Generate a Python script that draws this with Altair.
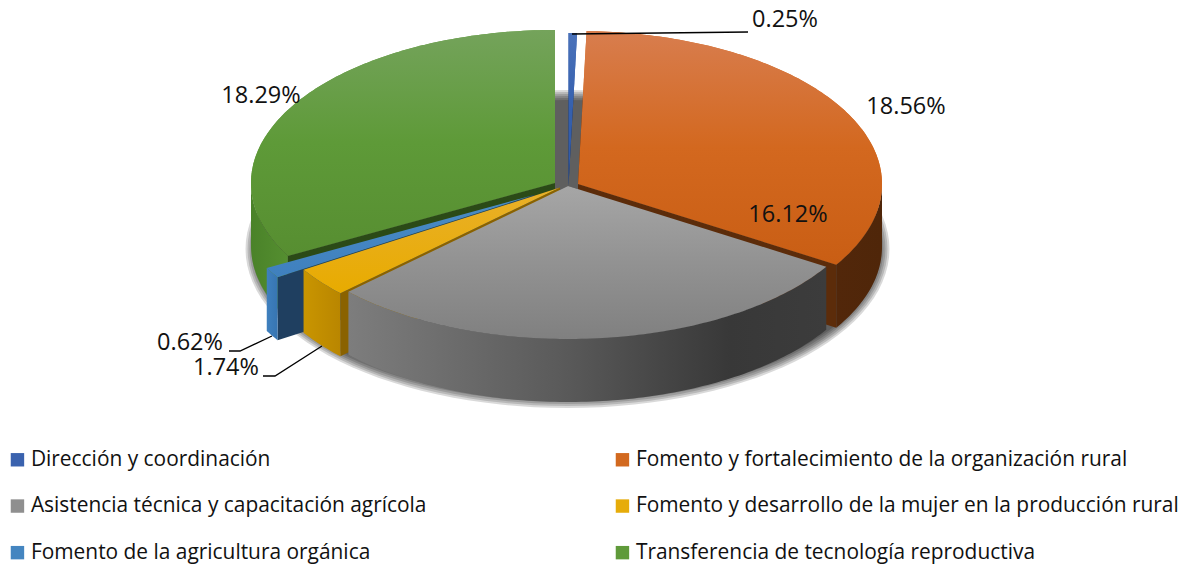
import math
import altair as alt

categories = ["Dirección y coordinación", "Fomento y fortalecimiento de la organización rural",
              "Asistencia técnica y capacitación agrícola", "Fomento y desarrollo de la mujer en la producción rural",
              "Fomento de la agricultura orgánica", "Transferencia de tecnología reproductiva"]
values = [0.25, 18.56, 16.12, 1.74, 0.62, 18.29]
legend_colors = ["#3A62AE", "#D2691F", "#8F8F8F", "#E6AC0A", "#4485C0", "#5F9A3A"]

# Drawing parameters of the 3D pie (picture coordinates)
RX, RY, DEPTH = 304, 153, 63
centers = [(568.5, 186), (578, 184), (568, 186), (560, 187.5), (534, 195), (555, 183)]
top_stops = [
    [("#4A72BA", 0), ("#3560AE", .5), ("#2F58A5", 1)],
    [("#D87D4E", 0), ("#D3681F", .5), ("#C95E14", 1)],
    [("#A6A6A6", 0), ("#929292", .5), ("#808080", 1)],
    [("#E9B02A", 0), ("#E8AB00", 1)],
    [("#4A8CC6", 0), ("#3F80BE", 1)],
    [("#74A35B", 0), ("#5E9A38", .5), ("#578E31", 1)],
]
wall_stops = [
    None,
    [("#52270A", 0), ("#4F2609", 1)],
    [("#7D7D7D", 0), ("#5A5A5A", .45), ("#383838", .8), ("#3C3C3C", 1)],
    [("#C99500", 0), ("#B98600", 1)],
    [("#3F80BE", 0), ("#3775B2", 1)],
    [("#4A8229", 0), ("#558F30", 1)],
]
face_colors = [None, "#5C2C0A", None, "#8A6200", "#1F3F60", "#2B4A17"]
face_at_start = [None, False, None, True, True, True]
draw_order = [5, 1, 0, 4, 3, 2]

label_pos = [(785, 20), (788, 215), (906, 107), (226, 368), (190, 343), (261, 96)]
label_values = [0.25, 16.12, 18.56, 1.74, 0.62, 18.29]
leaders = [
    [(572, 34), (748, 32)],
    [(272, 336), (240, 351), (229, 351)],
    [(322, 346), (275, 376), (263, 376)],
]

total = sum(values)
starts, a = [], 0.0
for v in values:
    starts.append(a)
    a += v / total * 360
ends = starts[1:] + [360.0]


def pt(c, deg, dy=0):
    r = math.radians(deg)
    return [c[0] + RX * math.sin(r), c[1] - RY * math.cos(r) + dy]


def arc(c, a1, a2, dy=0):
    n = max(2, int(abs(a2 - a1)) + 2)
    return [pt(c, a1 + (a2 - a1) * i / (n - 1), dy) for i in range(n)]


def poly(coords, name="x"):
    ring = list(coords) + [coords[0]]
    return {"type": "Feature", "properties": {"name": name},
            "geometry": {"type": "Polygon", "coordinates": [ring]}}


def grad(stops, horizontal=False):
    return alt.Gradient(gradient="linear", x1=0, y1=0, x2=1 if horizontal else 0, y2=0 if horizontal else 1,
                        stops=[alt.GradientStop(color=s[0], offset=s[1]) for s in stops])


PROJ = dict(type="identity", scale=1, translate=[-8, -8])


def shape(features, **mark):
    mark.setdefault("strokeWidth", 0)
    return alt.Chart(alt.Data(values=features)).mark_geoshape(**mark).project(**PROJ)


layers = []

# legend carrier: flat tops, fully covered by the shaded tops drawn later
flat = [poly([list(centers[i])] + arc(centers[i], starts[i], ends[i]), categories[i]) for i in range(6)]
layers.append(
    alt.Chart(alt.Data(values=flat)).mark_geoshape(strokeWidth=0).encode(
        color=alt.Color("properties.name:N",
                        scale=alt.Scale(domain=categories, range=legend_colors),
                        legend=alt.Legend(orient="none", legendX=-1, legendY=441, direction="horizontal", columns=2,
                                          title=None, symbolType="square", symbolSize=180, symbolStrokeWidth=0,
                                          labelFont="Open Sans", labelFontSize=20.9, labelColor="#111111",
                                          labelOffset=3, labelLimit=700, padding=0,
                                          columnPadding=185, rowPadding=24.6, values=categories))
    ).project(**PROJ)
)

# soft shadow below the pie
for k in range(6):
    e = [[567.5 + (322 - 2 * k) * math.sin(math.radians(t)),
          249 + (159 - 2 * k) * math.cos(math.radians(t))] for t in range(0, 360, 3)]
    layers.append(shape([poly(e)], fill="#000000", fillOpacity=0.15))

for i in draw_order:
    c = centers[i]
    if face_colors[i]:
        ang = starts[i] if face_at_start[i] else ends[i]
        p = pt(c, ang)
        q = pt(c, ang, DEPTH)
        layers.append(shape([poly([list(c), p, q, [c[0], c[1] + DEPTH]])], fill=face_colors[i]))
    if wall_stops[i]:
        a1, a2 = max(starts[i], 90), min(ends[i], 270)
        wall = arc(c, a1, a2) + arc(c, a2, a1, DEPTH)
        layers.append(shape([poly(wall)], fill=grad(wall_stops[i], True)))
    top = [list(c)] + arc(c, starts[i], ends[i])
    layers.append(shape([poly(top)], fill=grad(top_stops[i])))

for ln in leaders:
    feat = {"type": "Feature", "properties": {},
            "geometry": {"type": "LineString", "coordinates": [list(p) for p in ln]}}
    layers.append(shape([feat], filled=False, stroke="#000000", strokeWidth=1.3))

label_rows = [{"lon": p[0], "lat": p[1], "txt": f"{v:.2f}%"} for p, v in zip(label_pos, label_values)]
layers.append(
    alt.Chart(alt.Data(values=label_rows)).mark_text(
        font="Open Sans", fontSize=23.5, color="#111111", align="center", baseline="middle"
    ).encode(longitude="lon:Q", latitude="lat:Q", text="txt:N").project(**PROJ)
)

chart = alt.layer(*layers).properties(
    width=1173, height=557, padding=0, background="white",
    autosize=alt.AutoSizeParams(type="none")
).configure_view(stroke=None)

chart.save("out.html", embed_options={"renderer": "svg", "actions": False})
